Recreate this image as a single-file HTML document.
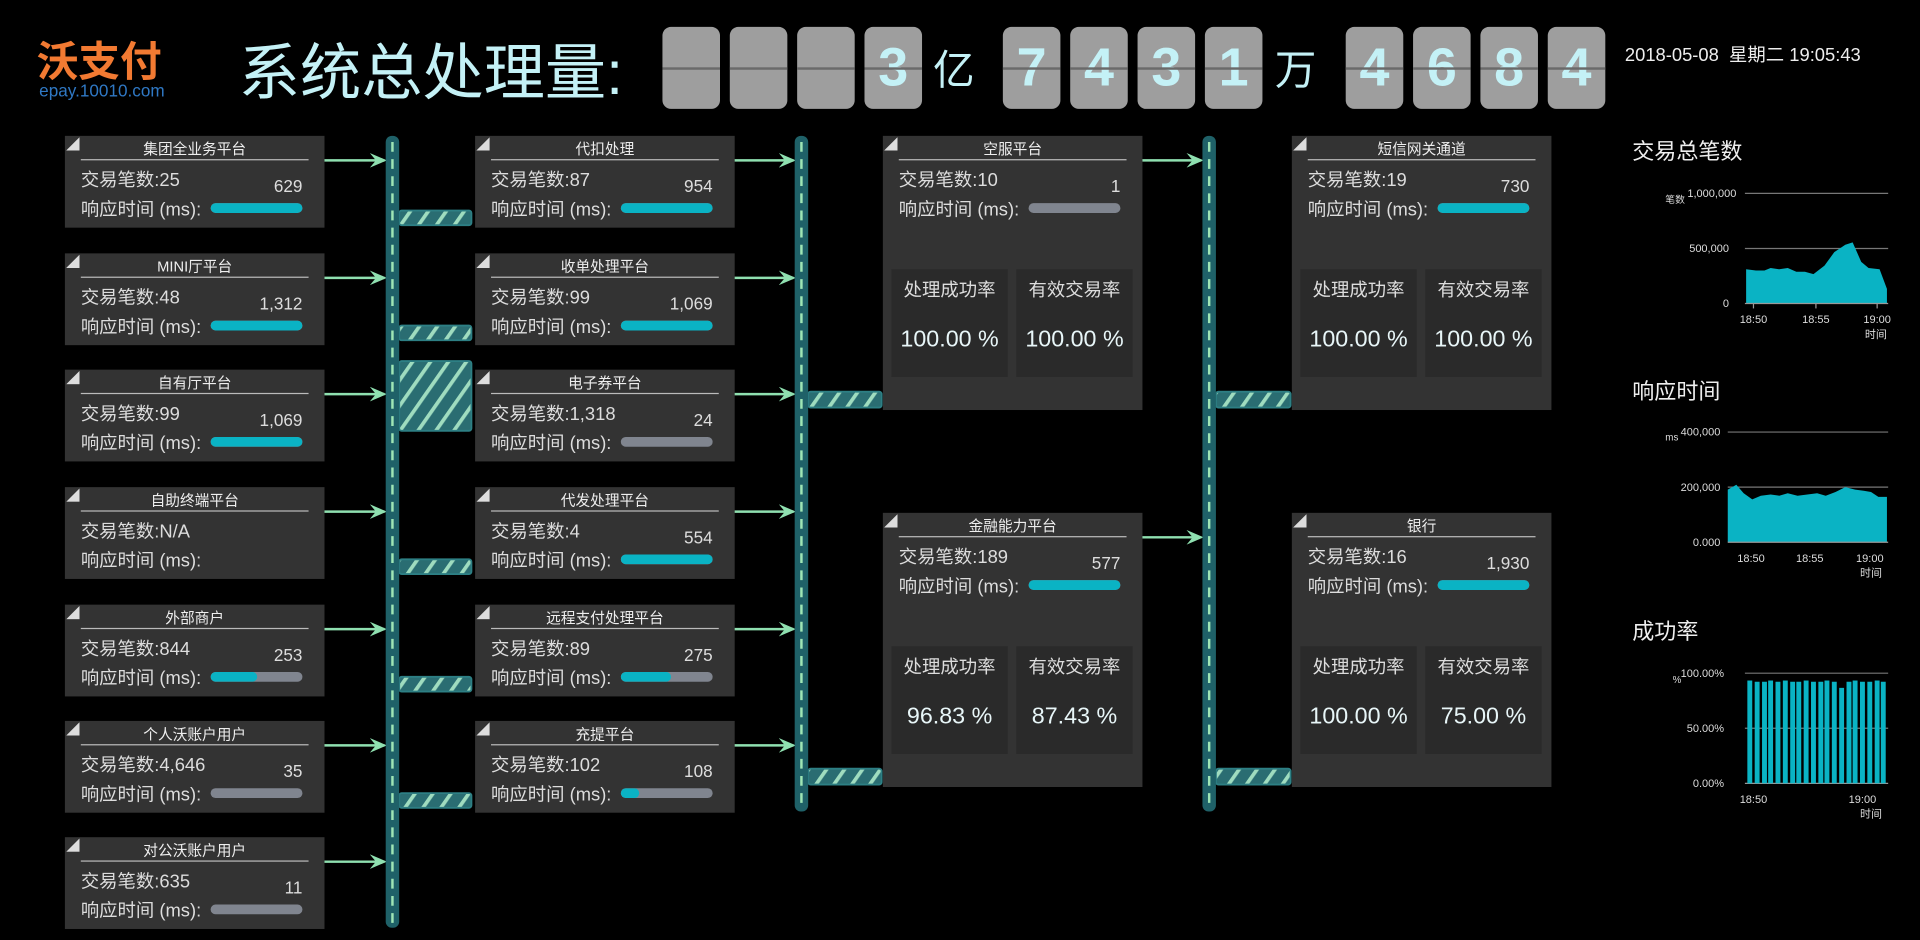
<!DOCTYPE html>
<html><head><meta charset="utf-8">
<style>
html,body{margin:0;padding:0;background:#000;width:1920px;height:940px;overflow:hidden}
#s{position:absolute;left:0;top:0;width:1568px;height:768px;transform:scale(1.22449,1.22396);transform-origin:0 0;font-family:"Liberation Sans","Noto Sans CJK SC",sans-serif;color:#e8e8e8}
.a{position:absolute}
.tile{position:absolute;top:22px;width:47px;height:67px;background:#9e9e9e;border-radius:7px;color:#c4f1f6;font:bold 44px/67px "Liberation Sans",sans-serif;text-align:center;overflow:hidden}
.tile:after{content:"";position:absolute;left:0;right:0;top:33px;height:2px;background:#6a6a6a}
.u{position:absolute;top:30px;font-size:34px;color:#c4f1f6}
.b{position:absolute;width:212px;height:75px;background:#333;}
.b:before{content:"";position:absolute;left:1px;top:1px;width:11px;height:11px;background:#ddd;clip-path:polygon(0 100%,100% 0,100% 100%)}
.b .t{position:absolute;left:0;right:0;top:2px;text-align:center;font-size:12px;color:#eee}
.b .hr{position:absolute;left:13px;right:13px;top:19px;height:1px;background:#bbb}
.b .l1{position:absolute;left:13px;top:25px;font-size:15px;color:#ddd}
.b .v{position:absolute;right:18px;top:33px;font-size:14px;color:#ddd}
.b .l2{position:absolute;left:13px;top:49px;font-size:15px;color:#ddd}
.b .bar{position:absolute;left:119px;top:55px;width:75px;height:8px;border-radius:4px;background:#80858f;overflow:hidden}
.b .bar i{display:block;height:100%;background:#0ab3c4;border-radius:4px}
.big{height:224px}
.p{position:absolute;top:109px;width:95px;height:88px;background:#2a2a2a}
.p .pl{position:absolute;left:0;right:0;top:6px;text-align:center;font-size:15px;color:#ddd}
.p .pv{position:absolute;left:0;right:0;top:47px;text-align:center;font-size:19px;color:#e8f6f8}
.ct{position:absolute;left:1333px;font-size:18px;color:#eee}
</style></head><body><div id="s">
<div class="a" style="left:30px;top:28px;font:bold 34px/40px 'Noto Sans CJK SC',sans-serif;color:#f27a32">沃支付</div>
<div class="a" style="left:32px;top:66px;font-size:14px;color:#2f78c4">epay.10010.com</div>
<div class="a" style="left:195px;top:20px;font-size:50px;color:#c4f1f6">系统总处理量:</div>
<div class="tile" style="left:541px"></div><div class="tile" style="left:596px"></div><div class="tile" style="left:651px"></div><div class="tile" style="left:706px">3</div>
<div class="u" style="left:762px">亿</div>
<div class="tile" style="left:819px">7</div><div class="tile" style="left:874px">4</div><div class="tile" style="left:929px">3</div><div class="tile" style="left:984px">1</div>
<div class="u" style="left:1041px">万</div>
<div class="tile" style="left:1099px">4</div><div class="tile" style="left:1154px">6</div><div class="tile" style="left:1209px">8</div><div class="tile" style="left:1264px">4</div>
<div class="a" style="left:1327px;top:34px;font-size:15px;color:#eee">2018-05-08 &nbsp;星期二 19:05:43</div>

<svg class="a" style="left:0;top:0" width="1568" height="768">
<defs><pattern id="h" width="12" height="12" patternUnits="userSpaceOnUse" patternTransform="rotate(35)"><rect width="12" height="12" fill="#2a6d72"/><rect width="3" height="12" fill="#9fdcbf"/></pattern>
<marker id="ar" markerWidth="14" markerHeight="12" refX="12" refY="6" orient="auto" markerUnits="userSpaceOnUse"><path d="M0,0 L14,6 L0,12 L5,6 Z" fill="#8fe0b0"/></marker></defs>
<g stroke="#8fe0b0" stroke-width="2" marker-end="url(#ar)">
<line x1="265" y1="131" x2="314" y2="131"/><line x1="265" y1="227" x2="314" y2="227"/><line x1="265" y1="322" x2="314" y2="322"/><line x1="265" y1="418" x2="314" y2="418"/><line x1="265" y1="514" x2="314" y2="514"/><line x1="265" y1="609" x2="314" y2="609"/><line x1="265" y1="704" x2="314" y2="704"/>
<line x1="598" y1="131" x2="648" y2="131"/><line x1="598" y1="227" x2="648" y2="227"/><line x1="598" y1="322" x2="648" y2="322"/><line x1="598" y1="418" x2="648" y2="418"/><line x1="598" y1="514" x2="648" y2="514"/><line x1="598" y1="609" x2="648" y2="609"/>
<line x1="931" y1="131" x2="981" y2="131"/><line x1="931" y1="439" x2="981" y2="439"/>
</g>
<g stroke="#2d7f84" stroke-width="1.5" fill="url(#h)">
<rect x="326" y="172" width="59" height="12" rx="2"/><rect x="326" y="266" width="59" height="12" rx="2"/><rect x="326" y="295" width="59" height="57" rx="2"/><rect x="326" y="457" width="59" height="12" rx="2"/><rect x="326" y="553" width="59" height="12" rx="2"/><rect x="326" y="648" width="59" height="12" rx="2"/>
<rect x="660" y="320" width="60" height="13" rx="2"/><rect x="660" y="628" width="60" height="13" rx="2"/>
<rect x="993" y="320" width="61" height="13" rx="2"/><rect x="993" y="628" width="61" height="13" rx="2"/>
</g>
<g fill="#1f6168"><rect x="315" y="111" width="11" height="647" rx="5"/><rect x="649" y="111" width="11" height="552" rx="5"/><rect x="982" y="111" width="11" height="552" rx="5"/></g>
<g stroke="#9fe6b5" stroke-width="2" stroke-dasharray="8,6"><line x1="320.5" y1="116" x2="320.5" y2="756"/><line x1="654.5" y1="116" x2="654.5" y2="662"/><line x1="987.5" y1="116" x2="987.5" y2="662"/></g>

<g font-family="Liberation Sans,Noto Sans CJK SC,sans-serif" font-size="9" fill="#ddd">
<g stroke="#777" stroke-width="1"><line x1="1425" y1="158" x2="1542" y2="158"/><line x1="1425" y1="203" x2="1542" y2="203"/><line x1="1411" y1="353" x2="1542" y2="353"/><line x1="1411" y1="398" x2="1542" y2="398"/><line x1="1425" y1="550" x2="1542" y2="550"/><line x1="1425" y1="595" x2="1542" y2="595"/></g>
<path d="M1426,248 L1426,220 L1434,221 L1441,221 L1446,219 L1453,220 L1460,219 L1467,222 L1474,222 L1481,224 L1490,217 L1498,206 L1507,200 L1513,198 L1520,214 L1526,219 L1535,220 L1541,236 L1541,248 Z" fill="#0ab3c4"/>
<path d="M1411,443 L1411,400 L1418,396 L1424,403 L1431,408 L1438,405 L1446,404 L1453,405 L1460,403 L1468,405 L1476,404 L1484,403 L1491,405 L1499,402 L1507,398 L1515,400 L1522,401 L1528,402 L1534,406 L1541,406 L1541,443 Z" fill="#0ab3c4"/>
<g stroke="#999"><line x1="1425" y1="248" x2="1542" y2="248"/><line x1="1411" y1="443" x2="1542" y2="443"/><line x1="1425" y1="640" x2="1542" y2="640"/><line x1="1432" y1="248" x2="1432" y2="252"/><line x1="1483" y1="248" x2="1483" y2="252"/><line x1="1533" y1="248" x2="1533" y2="252"/></g>
<text x="1418" y="161" text-anchor="end">1,000,000</text><text x="1412" y="206" text-anchor="end">500,000</text><text x="1412" y="251" text-anchor="end">0</text><text x="1360" y="166" font-size="8">笔数</text>
<text x="1432" y="264" text-anchor="middle">18:50</text><text x="1483" y="264" text-anchor="middle">18:55</text><text x="1533" y="264" text-anchor="middle">19:00</text><text x="1532" y="276" text-anchor="middle">时间</text>
<text x="1405" y="356" text-anchor="end">400,000</text><text x="1405" y="401" text-anchor="end">200,000</text><text x="1405" y="446" text-anchor="end">0.000</text><text x="1360" y="360" font-size="8">ms</text>
<text x="1430" y="459" text-anchor="middle">18:50</text><text x="1478" y="459" text-anchor="middle">18:55</text><text x="1527" y="459" text-anchor="middle">19:00</text><text x="1528" y="471" text-anchor="middle">时间</text>
<text x="1408" y="553" text-anchor="end">100.00%</text><text x="1408" y="598" text-anchor="end">50.00%</text><text x="1408" y="643" text-anchor="end">0.00%</text><text x="1366" y="558" font-size="8">%</text>
<text x="1432" y="656" text-anchor="middle">18:50</text><text x="1521" y="656" text-anchor="middle">19:00</text><text x="1528" y="668" text-anchor="middle">时间</text>
<g fill="#0ab3c4">
<rect x="1427" y="556" width="4" height="84"/><rect x="1433" y="557" width="4" height="83"/><rect x="1439" y="557" width="4" height="83"/><rect x="1444" y="556" width="4" height="84"/><rect x="1450" y="557" width="4" height="83"/><rect x="1456" y="556" width="4" height="84"/><rect x="1462" y="557" width="4" height="83"/><rect x="1467" y="557" width="4" height="83"/><rect x="1473" y="556" width="4" height="84"/><rect x="1479" y="557" width="4" height="83"/><rect x="1485" y="557" width="4" height="83"/><rect x="1490" y="556" width="4" height="84"/><rect x="1496" y="557" width="4" height="83"/><rect x="1502" y="562" width="4" height="78"/><rect x="1508" y="557" width="4" height="83"/><rect x="1513" y="556" width="4" height="84"/><rect x="1519" y="557" width="4" height="83"/><rect x="1525" y="557" width="4" height="83"/><rect x="1531" y="556" width="4" height="84"/><rect x="1536" y="557" width="4" height="83"/>
</g></g>
</svg>
<div class="ct" style="top:110px">交易总笔数</div>
<div class="ct" style="top:306px">响应时间</div>
<div class="ct" style="top:502px">成功率</div>

<div class="b" style="left:53px;top:111px"><div class="t">集团全业务平台</div><div class="hr"></div><div class="l1">交易笔数:25</div><div class="v">629</div><div class="l2">响应时间 (ms):</div><div class="bar"><i style="width:100%"></i></div></div>
<div class="b" style="left:53px;top:207px"><div class="t">MINI厅平台</div><div class="hr"></div><div class="l1">交易笔数:48</div><div class="v">1,312</div><div class="l2">响应时间 (ms):</div><div class="bar"><i style="width:100%"></i></div></div>
<div class="b" style="left:53px;top:302px"><div class="t">自有厅平台</div><div class="hr"></div><div class="l1">交易笔数:99</div><div class="v">1,069</div><div class="l2">响应时间 (ms):</div><div class="bar"><i style="width:100%"></i></div></div>
<div class="b" style="left:53px;top:398px"><div class="t">自助终端平台</div><div class="hr"></div><div class="l1">交易笔数:N/A</div><div class="l2">响应时间 (ms):</div></div>
<div class="b" style="left:53px;top:494px"><div class="t">外部商户</div><div class="hr"></div><div class="l1">交易笔数:844</div><div class="v">253</div><div class="l2">响应时间 (ms):</div><div class="bar"><i style="width:50%"></i></div></div>
<div class="b" style="left:53px;top:589px"><div class="t">个人沃账户用户</div><div class="hr"></div><div class="l1">交易笔数:4,646</div><div class="v">35</div><div class="l2">响应时间 (ms):</div><div class="bar"></div></div>
<div class="b" style="left:53px;top:684px"><div class="t">对公沃账户用户</div><div class="hr"></div><div class="l1">交易笔数:635</div><div class="v">11</div><div class="l2">响应时间 (ms):</div><div class="bar"></div></div>
<div class="b" style="left:388px;top:111px"><div class="t">代扣处理</div><div class="hr"></div><div class="l1">交易笔数:87</div><div class="v">954</div><div class="l2">响应时间 (ms):</div><div class="bar"><i style="width:100%"></i></div></div>
<div class="b" style="left:388px;top:207px"><div class="t">收单处理平台</div><div class="hr"></div><div class="l1">交易笔数:99</div><div class="v">1,069</div><div class="l2">响应时间 (ms):</div><div class="bar"><i style="width:100%"></i></div></div>
<div class="b" style="left:388px;top:302px"><div class="t">电子券平台</div><div class="hr"></div><div class="l1">交易笔数:1,318</div><div class="v">24</div><div class="l2">响应时间 (ms):</div><div class="bar"></div></div>
<div class="b" style="left:388px;top:398px"><div class="t">代发处理平台</div><div class="hr"></div><div class="l1">交易笔数:4</div><div class="v">554</div><div class="l2">响应时间 (ms):</div><div class="bar"><i style="width:100%"></i></div></div>
<div class="b" style="left:388px;top:494px"><div class="t">远程支付处理平台</div><div class="hr"></div><div class="l1">交易笔数:89</div><div class="v">275</div><div class="l2">响应时间 (ms):</div><div class="bar"><i style="width:55%"></i></div></div>
<div class="b" style="left:388px;top:589px"><div class="t">充提平台</div><div class="hr"></div><div class="l1">交易笔数:102</div><div class="v">108</div><div class="l2">响应时间 (ms):</div><div class="bar"><i style="width:20%"></i></div></div>
<div class="b big" style="left:721px;top:111px"><div class="t">空服平台</div><div class="hr"></div><div class="l1">交易笔数:10</div><div class="v">1</div><div class="l2">响应时间 (ms):</div><div class="bar"></div>
<div class="p" style="left:7px"><div class="pl">处理成功率</div><div class="pv">100.00 %</div></div><div class="p" style="left:109px"><div class="pl">有效交易率</div><div class="pv">100.00 %</div></div></div>
<div class="b big" style="left:721px;top:419px"><div class="t">金融能力平台</div><div class="hr"></div><div class="l1">交易笔数:189</div><div class="v">577</div><div class="l2">响应时间 (ms):</div><div class="bar"><i style="width:100%"></i></div>
<div class="p" style="left:7px"><div class="pl">处理成功率</div><div class="pv">96.83 %</div></div><div class="p" style="left:109px"><div class="pl">有效交易率</div><div class="pv">87.43 %</div></div></div>
<div class="b big" style="left:1055px;top:111px"><div class="t">短信网关通道</div><div class="hr"></div><div class="l1">交易笔数:19</div><div class="v">730</div><div class="l2">响应时间 (ms):</div><div class="bar"><i style="width:100%"></i></div>
<div class="p" style="left:7px"><div class="pl">处理成功率</div><div class="pv">100.00 %</div></div><div class="p" style="left:109px"><div class="pl">有效交易率</div><div class="pv">100.00 %</div></div></div>
<div class="b big" style="left:1055px;top:419px"><div class="t">银行</div><div class="hr"></div><div class="l1">交易笔数:16</div><div class="v">1,930</div><div class="l2">响应时间 (ms):</div><div class="bar"><i style="width:100%"></i></div>
<div class="p" style="left:7px"><div class="pl">处理成功率</div><div class="pv">100.00 %</div></div><div class="p" style="left:109px"><div class="pl">有效交易率</div><div class="pv">75.00 %</div></div></div>
</div></body></html>
